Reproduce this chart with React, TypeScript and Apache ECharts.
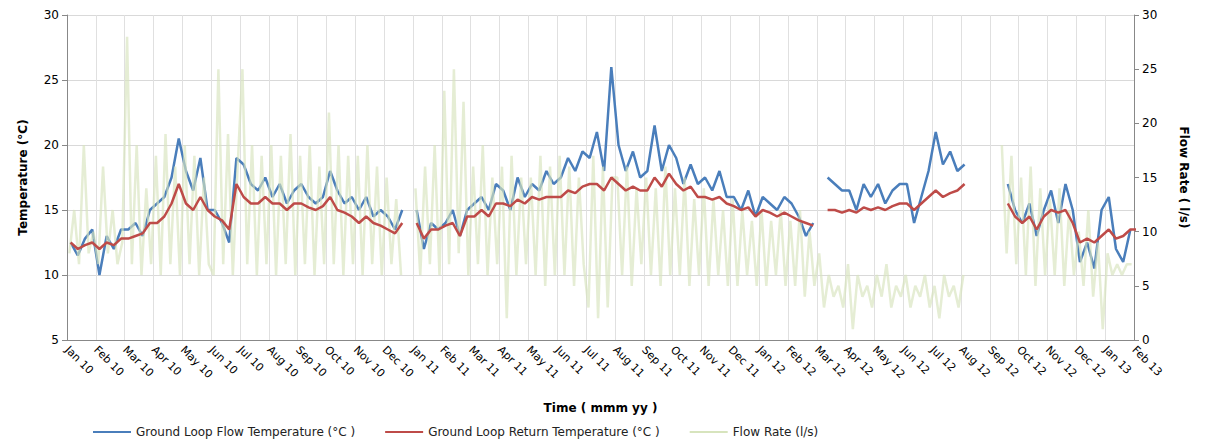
import { useEffect, useRef } from 'react';
import * as echarts from 'echarts';

const months = [
  'Jan 10', 'Feb 10', 'Mar 10', 'Apr 10', 'May 10', 'Jun 10', 'Jul 10', 'Aug 10', 'Sep 10', 'Oct 10', 'Nov 10', 'Dec 10',
  'Jan 11', 'Feb 11', 'Mar 11', 'Apr 11', 'May 11', 'Jun 11', 'Jul 11', 'Aug 11', 'Sep 11', 'Oct 11', 'Nov 11', 'Dec 11',
  'Jan 12', 'Feb 12', 'Mar 12', 'Apr 12', 'May 12', 'Jun 12', 'Jul 12', 'Aug 12', 'Sep 12', 'Oct 12', 'Nov 12', 'Dec 12',
  'Jan 13', 'Feb 13',
];

// 4 readings per month
const flowTemp = [
  12.5, 11.5, 12.8, 13.5, 10, 13, 12, 13.5, 13.5, 14, 13, 15, 15.5, 16, 17.5, 20.5,
  18, 16.5, 19, 15, 15, 14, 12.5, 19, 18.5, 17, 16.5, 17.5, 16, 17, 15.5, 16.5,
  17, 16, 15.5, 16, 18, 16.5, 15.5, 16, 15, 16, 14.5, 15, 14.5, 13.5, 15, null,
  15, 12, 14, 13.5, 14, 15, 13, 15, 15.5, 16, 15, 17, 16.5, 15, 17.5, 16,
  17, 16.5, 18, 17, 17.5, 19, 18, 19.5, 19, 21, 18, 26, 20, 18, 19.5, 17.5,
  18, 21.5, 18, 20, 19, 17, 18.5, 17, 17.5, 16.5, 18, 16, 16, 15, 16.5, 14.5,
  16, 15.5, 15, 16, 15.5, 14.5, 13, 14, null, 17.5, 17, 16.5, 16.5, 15, 17, 16,
  17, 15.5, 16.5, 17, 17, 14, 16, 18, 21, 18.5, 19.5, 18, 18.5, null, null, null,
  null, null, 17, 15, 14, 15.5, 13, 15, 16.5, 14, 17, 15, 11, 12.5, 10.5, 15,
  16, 12, 11, 13.5,
];

const returnTemp = [
  12.5, 12, 12.3, 12.5, 12, 12.5, 12.3, 12.8, 12.8, 13, 13.2, 14, 14, 14.5, 15.5, 17,
  15.5, 15, 16, 15, 14.5, 14.2, 13.5, 17, 16, 15.5, 15.5, 16, 15.5, 15.5, 15, 15.5,
  15.5, 15.2, 15, 15.3, 16, 15, 14.8, 14.5, 14, 14.5, 14, 13.8, 13.5, 13.2, 14, null,
  14, 12.8, 13.5, 13.5, 13.8, 14, 13, 14.5, 14.5, 15, 14.5, 15.5, 15.5, 15.3, 15.8, 15.5,
  16, 15.8, 16, 16, 16, 16.5, 16.3, 16.8, 17, 17, 16.5, 17.5, 17, 16.5, 16.8, 16.5,
  16.5, 17.5, 16.8, 17.8, 17, 16.5, 16.8, 16, 16, 15.8, 16, 15.5, 15.3, 15, 15.2, 14.5,
  15, 14.8, 14.5, 14.8, 14.5, 14.2, 14, 13.8, null, 15, 15, 14.8, 15, 14.8, 15.2, 15,
  15.2, 15, 15.3, 15.5, 15.5, 15, 15.5, 16, 16.5, 16, 16.3, 16.5, 17, null, null, null,
  null, null, 15.5, 14.5, 14, 14.5, 13.5, 14.5, 15, 14.8, 15, 14, 12.5, 12.8, 12.5, 13,
  13.5, 12.8, 13, 13.5, 13.5,
];

// 6 readings per month
const flowRate = [
  8, 12, 7, 18, 8, 10, 7, 16, 8, 12, 7, 9, 28, 7, 18, 6, 14, 7, 17, 6, 19, 7, 16, 6,
  18, 7, 17, 6, 15, 7, 6, 25, 7, 19, 6, 16, 25, 7, 18, 6, 17, 7, 18, 6, 17, 7, 19, 6,
  17, 7, 18, 6, 16, 7, 21, 7, 18, 6, 17, 7, 17, 6, 18, 7, 16, 6, 15, 7, 13, 6, null, null,
  14, 6, 16, 7, 18, 6, 23, 7, 25, 8, 22, 6, 16, 7, 18, 6, 15, 7, 16, 2, 17, 6, 15, 7,
  15, 6, 17, 5, 16, 6, 17, 6, 16, 5, 15, 7, 3, 17, 2, 16, 3, 15, 15, 6, 16, 5, 14, 7,
  15, 6, 14, 5, 16, 6, 14, 6, 15, 5, 13, 6, 14, 5, 13, 6, 12, 5, 13, 5, 12, 6, 11, 5,
  12, 5, 11, 6, 12, 5, 11, 5, 12, 4, 10, 5, 8, 3, 6, 4, 5, 3, 7, 1, 6, 4, 5, 3,
  6, 4, 7, 3, 5, 4, 6, 3, 5, 4, 6, 3, 5, 2, 6, 4, 5, 3, 6, null, null, null, null, null,
  null, null, 18, 8, 17, 7, 15, 6, 16, 5, 14, 6, 13, 6, 14, 5, 12, 6, 10, 5, 12, 4, 9, 1,
  8, 6, 7, 6, 7, 7,
];

const FONT = 'DejaVu Sans';

export default function App() {
  const ref = useRef<HTMLDivElement>(null);

  useEffect(() => {
    if (!ref.current) return;
    const chart = echarts.init(ref.current, undefined, { renderer: 'svg' });
    const toPts = (arr: (number | null)[], per: number) =>
      arr.map((v, i) => [i / per + 0.5 / per, v]);

    chart.setOption({
      animation: false,
      textStyle: { fontFamily: FONT },
      grid: { left: 59, right: 55, top: 7, bottom: 104 },
      legend: {
        bottom: 1,
        left: 80,
        itemWidth: 38,
        itemGap: 30,
        icon: 'rect',
        itemHeight: 2,
        textStyle: { fontSize: 12, color: '#222', fontFamily: FONT },
        data: [
          'Ground Loop Flow Temperature (°C )',
          'Ground Loop Return Temperature (°C )',
          'Flow Rate (l/s)',
        ],
      },
      xAxis: {
        type: 'value',
        min: 0,
        max: 37,
        interval: 1,
        name: 'Time ( mmm yy )',
        nameLocation: 'middle',
        nameGap: 62,
        nameTextStyle: { fontWeight: 'bold', fontSize: 12, color: '#000' },
        axisLine: { lineStyle: { color: '#888' } },
        axisTick: { show: false },
        splitLine: { show: true, lineStyle: { color: '#e0e0e0' } },
        axisLabel: {
          rotate: -45,
          fontSize: 11,
          color: '#000',
          formatter: (v: number) => months[Math.round(v)] ?? '',
        },
      },
      yAxis: [
        {
          type: 'value',
          min: 5,
          max: 30,
          interval: 5,
          name: 'Temperature (°C)',
          nameLocation: 'middle',
          nameGap: 38,
          nameTextStyle: { fontWeight: 'bold', fontSize: 12, color: '#000' },
          axisLine: { show: true, lineStyle: { color: '#888' } },
          axisLabel: { fontSize: 12, color: '#000' },
          splitLine: { lineStyle: { color: '#d9d9d9' } },
        },
        {
          type: 'value',
          min: 0,
          max: 30,
          interval: 5,
          name: 'Flow Rate ( l/s)',
          nameLocation: 'middle',
          nameGap: 44,
          nameRotate: -90,
          nameTextStyle: { fontWeight: 'bold', fontSize: 12, color: '#000' },
          axisLine: { show: true, lineStyle: { color: '#888' } },
          axisLabel: { fontSize: 12, color: '#000' },
          splitLine: { show: false },
        },
      ],
      series: [
        {
          name: 'Ground Loop Flow Temperature (°C )',
          type: 'line',
          data: toPts(flowTemp, 4),
          showSymbol: false,
          color: '#4a7ebb',
          lineStyle: { width: 2.5 },
          z: 2,
        },
        {
          name: 'Flow Rate (l/s)',
          type: 'line',
          yAxisIndex: 1,
          data: toPts(flowRate, 6),
          showSymbol: false,
          color: '#d7e4bd',
          lineStyle: { width: 2.5, opacity: 0.65 },
          z: 3,
        },
        {
          name: 'Ground Loop Return Temperature (°C )',
          type: 'line',
          data: toPts(returnTemp, 4),
          showSymbol: false,
          color: '#be4b48',
          lineStyle: { width: 2.5 },
          z: 4,
        },
      ],
    });
    return () => chart.dispose();
  }, []);

  return <div ref={ref} style={{ width: 1190, height: 436 }} />;
}
